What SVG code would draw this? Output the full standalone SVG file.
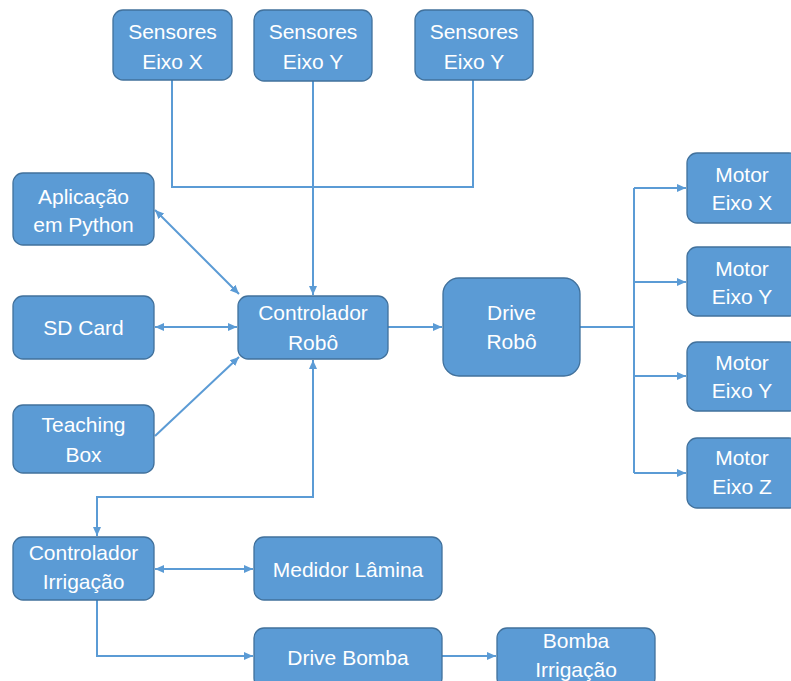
<svg xmlns="http://www.w3.org/2000/svg" width="791" height="681" viewBox="0 0 791 681">
<defs>
<style>
.box{fill:#5B9BD5;stroke:#41719C;stroke-width:1.3}
.t{font-family:"Liberation Sans",Arial,sans-serif;font-size:21px;fill:#fff;text-anchor:middle}
.c{fill:none;stroke:#5B9BD5;stroke-width:2}
</style>
<marker id="ah" markerUnits="userSpaceOnUse" markerWidth="10" markerHeight="10" viewBox="0 0 10 10" refX="9" refY="5" orient="auto-start-reverse">
<path d="M0,1 L9,5 L0,9 Z" fill="#5B9BD5"/>
</marker>
</defs>
<rect width="791" height="681" fill="#fff"/>
<g id="connectors">
<path class="c" d="M172,80 V187 H473 V80"/>
<path class="c" d="M313,81 V295" marker-end="url(#ah)"/>
<path class="c" d="M155,210 L239,294" marker-start="url(#ah)" marker-end="url(#ah)"/>
<path class="c" d="M155,327 H237" marker-start="url(#ah)" marker-end="url(#ah)"/>
<path class="c" d="M155,436 L239,357" marker-end="url(#ah)"/>
<path class="c" d="M388,327 H442" marker-end="url(#ah)"/>
<path class="c" d="M580,327 H634"/>
<path class="c" d="M634,188 V473"/>
<path class="c" d="M634,188 H686" marker-end="url(#ah)"/>
<path class="c" d="M634,282 H686" marker-end="url(#ah)"/>
<path class="c" d="M634,376 H686" marker-end="url(#ah)"/>
<path class="c" d="M634,473 H686" marker-end="url(#ah)"/>
<path class="c" d="M97,536 V497 H313 V360" marker-start="url(#ah)" marker-end="url(#ah)"/>
<path class="c" d="M155,569 H253" marker-start="url(#ah)" marker-end="url(#ah)"/>
<path class="c" d="M97,600 V656 H253" marker-end="url(#ah)"/>
<path class="c" d="M442,656 H496" marker-end="url(#ah)"/>
</g>
<g id="sensX"><rect class="box" x="113" y="10" width="119" height="70" rx="10"/><text class="t" x="172.5" y="39">Sensores</text><text class="t" x="172.5" y="69">Eixo X</text></g>
<g id="sensY1"><rect class="box" x="254" y="10" width="118" height="71" rx="10"/><text class="t" x="313" y="39">Sensores</text><text class="t" x="313" y="69">Eixo Y</text></g>
<g id="sensY2"><rect class="box" x="415" y="10" width="118" height="70" rx="10"/><text class="t" x="474" y="39">Sensores</text><text class="t" x="474" y="69">Eixo Y</text></g>
<g id="app"><rect class="box" x="13" y="173" width="141" height="72" rx="10"/><text class="t" x="83.5" y="204">Aplicação</text><text class="t" x="83.5" y="232">em Python</text></g>
<g id="sd"><rect class="box" x="13" y="296" width="141" height="63" rx="10"/><text class="t" x="83.5" y="335">SD Card</text></g>
<g id="teach"><rect class="box" x="13" y="405" width="141" height="68" rx="10"/><text class="t" x="83.5" y="432">Teaching</text><text class="t" x="83.5" y="462">Box</text></g>
<g id="ctrlRobo"><rect class="box" x="238" y="296" width="150" height="63" rx="10"/><text class="t" x="313" y="320">Controlador</text><text class="t" x="313" y="350">Robô</text></g>
<g id="driveRobo"><rect class="box" x="443" y="278" width="137" height="98" rx="16"/><text class="t" x="511.5" y="320">Drive</text><text class="t" x="511.5" y="349">Robô</text></g>
<g id="motorX"><rect class="box" x="687" y="153" width="112" height="70" rx="10"/><text class="t" x="742" y="182">Motor</text><text class="t" x="742" y="210">Eixo X</text></g>
<g id="motorY1"><rect class="box" x="687" y="247" width="112" height="69" rx="10"/><text class="t" x="742" y="276">Motor</text><text class="t" x="742" y="304">Eixo Y</text></g>
<g id="motorY2"><rect class="box" x="687" y="342" width="112" height="69" rx="10"/><text class="t" x="742" y="370">Motor</text><text class="t" x="742" y="398">Eixo Y</text></g>
<g id="motorZ"><rect class="box" x="687" y="438" width="112" height="70" rx="10"/><text class="t" x="742" y="465">Motor</text><text class="t" x="742" y="494">Eixo Z</text></g>
<g id="ctrlIrr"><rect class="box" x="13" y="537" width="141" height="63" rx="10"/><text class="t" x="83.5" y="560">Controlador</text><text class="t" x="83.5" y="589">Irrigação</text></g>
<g id="medidor"><rect class="box" x="254" y="537" width="188" height="63" rx="10"/><text class="t" x="348" y="577">Medidor Lâmina</text></g>
<g id="driveBomba"><rect class="box" x="254" y="628" width="188" height="60" rx="10"/><text class="t" x="348" y="665">Drive Bomba</text></g>
<g id="bomba"><rect class="box" x="497" y="628" width="158" height="60" rx="10"/><text class="t" x="576" y="648">Bomba</text><text class="t" x="576" y="677">Irrigação</text></g>
</svg>
